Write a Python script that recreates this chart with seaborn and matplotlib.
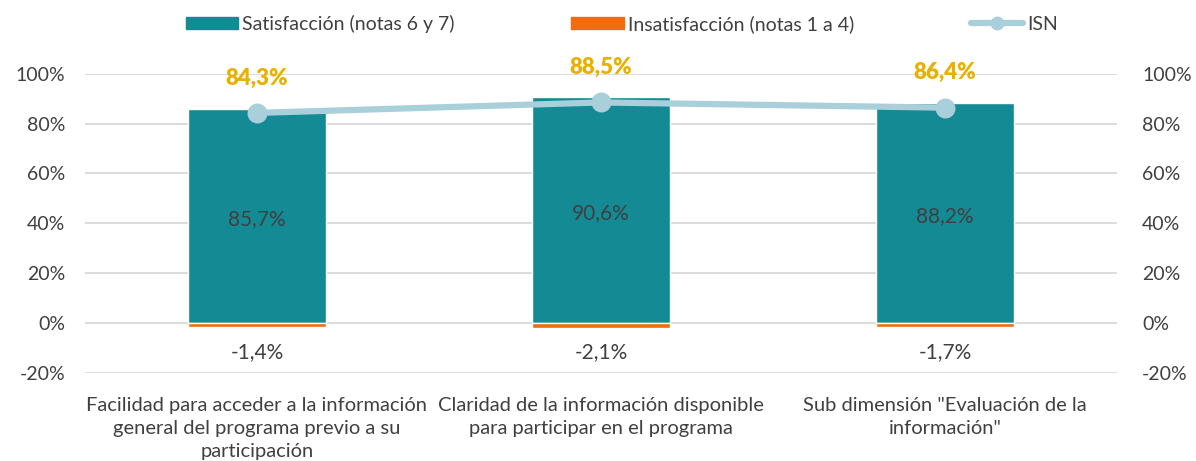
import matplotlib.pyplot as plt
import matplotlib.ticker as mticker
from matplotlib.lines import Line2D
from matplotlib.patches import Patch
import pandas as pd
import seaborn as sns

categorias = [
    'Facilidad para acceder a la información\ngeneral del programa previo a su\nparticipación',
    'Claridad de la información disponible\npara participar en el programa',
    'Sub dimensión "Evaluación de la\ninformación"',
]
satisfaccion = [85.7, 90.6, 88.2]
insatisfaccion = [-1.4, -2.1, -1.7]
isn = [84.3, 88.5, 86.4]

TEAL = '#138a94'
ORANGE = '#f26b0f'
ISN_COLOR = '#a9cfdb'
GOLD = '#eab000'
TXT = '#404040'

df = pd.DataFrame({
    'cat': categorias,
    'sat': satisfaccion,
    'ins': insatisfaccion,
    'isn': isn,
})

sns.set_theme(style='white')
plt.rcParams['font.family'] = ['Lato', 'DejaVu Sans']

fig = plt.figure(figsize=(11.96, 4.61), dpi=100)
ax = fig.add_axes([0.071, 0.191, 0.863, 0.649])

sns.barplot(data=df, x='cat', y='sat', color=TEAL, width=0.4,
            saturation=1, ax=ax, zorder=2)
sns.barplot(data=df, x='cat', y='ins', color=ORANGE, width=0.4,
            saturation=1, ax=ax, zorder=2)
sns.pointplot(data=df, x='cat', y='isn', color=ISN_COLOR, markers='o',
              linestyles='-', markersize=11, linewidth=4.5, ax=ax, zorder=3)

for i, row in df.iterrows():
    ax.text(i, row['sat'] / 2 - 1, f"{row['sat']:.1f}%".replace('.', ','),
            ha='center', va='center', fontsize=15, color=TXT)
    ax.text(i, -11.5, f"{row['ins']:.1f}%".replace('.', ','),
            ha='center', va='center', fontsize=15, color=TXT)
    ax.text(i, row['isn'] + 14, f"{row['isn']:.1f}%".replace('.', ','),
            ha='center', va='center', fontsize=16, color=GOLD,
            fontweight='heavy')

ax.set_ylim(-20, 100)
ax.set_xlim(-0.5, 2.5)
ax.yaxis.set_major_locator(mticker.MultipleLocator(20))
ax.yaxis.set_major_formatter(mticker.FuncFormatter(lambda v, p: f'{v:.0f}%'))
ax.grid(axis='y', color='#d9d9d9', linewidth=1.3, zorder=0)
ax.set_axisbelow(True)
for s in ax.spines.values():
    s.set_visible(False)
ax.set_xlabel('')
ax.set_ylabel('')
ax.tick_params(axis='y', labelsize=14, labelcolor=TXT, length=0, pad=14)
ax.tick_params(axis='x', labelsize=14.5, labelcolor=TXT, length=0, pad=17)
ax.set_xticks(range(3))
ax.set_xticklabels(categorias, linespacing=1.45)

ax2 = ax.twinx()
ax2.set_ylim(ax.get_ylim())
ax2.yaxis.set_major_locator(mticker.MultipleLocator(20))
ax2.yaxis.set_major_formatter(mticker.FuncFormatter(lambda v, p: f'{v:.0f}%'))
ax2.tick_params(axis='y', labelsize=14, labelcolor=TXT, length=0, pad=18)
for s in ax2.spines.values():
    s.set_visible(False)
ax2.grid(False)

handles = [
    Patch(color=TEAL, label='Satisfacción (notas 6 y 7)'),
    Patch(color=ORANGE, label='Insatisfacción (notas 1 a 4)'),
    Line2D([], [], color=ISN_COLOR, lw=4.5, marker='o', markersize=9,
           label='ISN'),
]
fig.legend(handles=handles, loc='center', bbox_to_anchor=(0.52, 0.948),
           ncol=3, frameon=False, fontsize=14, columnspacing=6,
           handlelength=2.7, handleheight=0.6, handletextpad=0.2,
           labelcolor=TXT)

fig.savefig('out.png', dpi=100)
